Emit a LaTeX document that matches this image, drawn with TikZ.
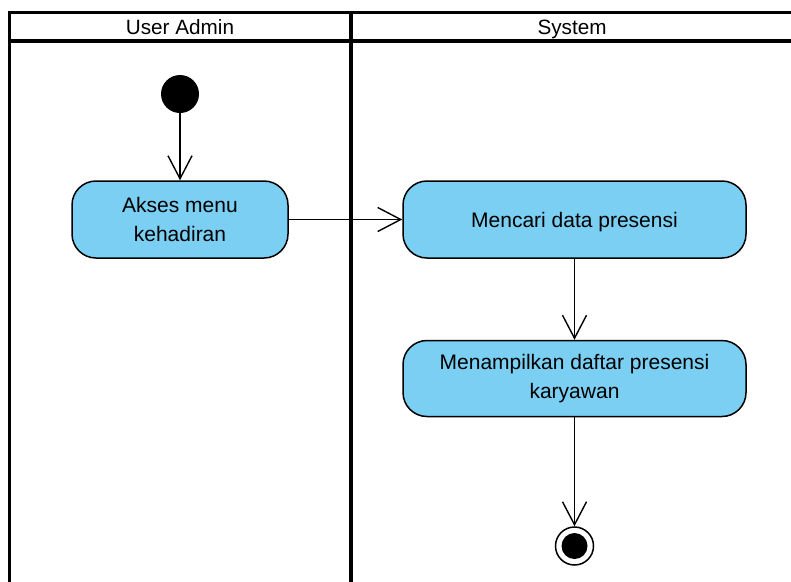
\documentclass[tikz,border=0pt]{standalone}
\usepackage{fontspec}
\setmainfont{Liberation Sans}
\usetikzlibrary{arrows.meta}
\definecolor{actfill}{RGB}{122,207,243}
\tikzset{
  lane/.style={line width=3.6pt, draw=black},
  action/.style={draw=black, line width=1.5pt, fill=actfill, rounded corners=24pt,
    align=center, font=\fontsize{21}{28.5}\selectfont, inner sep=0pt},
  flow/.style={draw=black, line width=1.4pt, -{Straight Barb[length=23pt,width=24pt,line width=1.4pt]}},
  hdr/.style={font=\fontsize{20.7}{24}\selectfont, inner sep=0pt, anchor=base}
}
\begin{document}
\begin{tikzpicture}[x=1pt,y=-1pt]
\useasboundingbox (0,0) rectangle (791,581);
\begin{scope}
\clip (0,0) rectangle (791,581);
% swimlane frame
\draw[lane] (800,12.5) -- (9.5,12.5) -- (9.5,600);
\draw[lane] (9.5,41) -- (800,41);
\draw[lane] (351,12.5) -- (351,600);
\end{scope}
\node[hdr] (h1) at (180,34.3) {User Admin};
\node[hdr] (h2) at (572,34.3) {System};
% start
\node[circle, fill=black, minimum size=38pt, inner sep=0pt] (start) at (180,94) {};
% actions
\node[action, minimum width=216pt, minimum height=77pt] (a1) at (180,219.5) {Akses menu\\kehadiran};
\node[action, minimum width=343pt, minimum height=77pt, text depth=0pt] (a2) at (574.5,219.5) {Mencari data presensi};
\node[action, minimum width=343pt, minimum height=76pt] (a3) at (574.5,378.5) {Menampilkan daftar presensi\\karyawan};
% end
\node[circle, draw=black, line width=1.5pt, fill=white, minimum size=38pt, inner sep=0pt] (end) at (574.5,546) {};
\node[circle, fill=black, minimum size=26pt, inner sep=0pt] (endin) at (end.center) {};
% flows
\draw[flow] (start) -- (a1);
\draw[flow] (a1) -- (a2);
\draw[flow] (a2) -- (a3);
\draw[flow] (a3) -- (end);
\end{tikzpicture}
\end{document}
